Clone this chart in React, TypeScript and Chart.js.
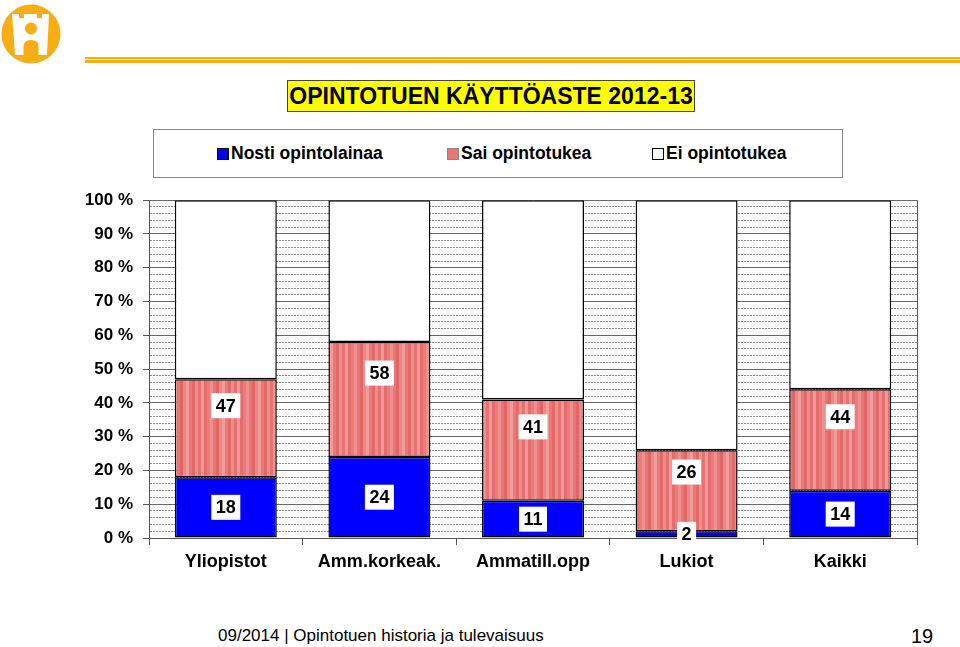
import React, { useEffect, useRef } from "react";
import { Chart, registerables } from "chart.js";

Chart.register(...registerables);

const categories = ["Yliopistot", "Amm.korkeak.", "Ammatill.opp", "Lukiot", "Kaikki"];
const loanValues = [18, 24, 11, 2, 14];
const supportTotals = [47, 58, 41, 26, 44];
const seriesNames = ["Nosti opintolainaa", "Sai opintotukea", "Ei opintotukea"];
const yTickValues = [0, 10, 20, 30, 40, 50, 60, 70, 80, 90, 100];

const FONT = "'Liberation Sans', Arial, Helvetica, sans-serif";

function makeRedPattern(): CanvasPattern | string {
  const c = document.createElement("canvas");
  const stripes = ["#E56C6C", "#EA7C7C", "#EF9090", "#E87676", "#E36666", "#EC8787", "#F29C9C", "#E97A7A", "#E46A6A", "#EE8D8D", "#E77272", "#F09898"];
  const sw = 3;
  c.width = stripes.length * sw;
  c.height = 4;
  const g = c.getContext("2d");
  if (!g) return "#E87878";
  stripes.forEach((col, i) => {
    g.fillStyle = col;
    g.fillRect(i * sw, 0, sw, 4);
  });
  const p = g.createPattern(c, "repeat");
  return p || "#E87878";
}

const labelPlugin = {
  id: "segmentLabels",
  afterDatasetsDraw(chart: any) {
    const ctx = chart.ctx;
    ctx.save();
    ctx.font = `bold 18px ${FONT}`;
    ctx.textAlign = "center";
    ctx.textBaseline = "middle";
    const drawBox = (text: string, x: number, y: number) => {
      const w = ctx.measureText(text).width + 9;
      const h = 25;
      ctx.fillStyle = "#FFFFFF";
      ctx.fillRect(x - w / 2, y - h / 2, w, h);
      ctx.fillStyle = "#000000";
      ctx.fillText(text, x, y + 1);
    };
    const m0 = chart.getDatasetMeta(0);
    const m1 = chart.getDatasetMeta(1);
    m1.data.forEach((el: any, i: number) => {
      const y = el.base + (el.y - el.base) * 0.73;
      drawBox(String(supportTotals[i]), el.x, y);
    });
    m0.data.forEach((el: any, i: number) => {
      const y = (el.base + el.y) / 2;
      drawBox(String(loanValues[i]), el.x, y);
    });
    ctx.restore();
  },
};

function ChartCanvas() {
  const ref = useRef<HTMLCanvasElement | null>(null);
  useEffect(() => {
    if (!ref.current) return;
    const redFill = makeRedPattern();
    const chart = new Chart(ref.current, {
      type: "bar",
      data: {
        labels: categories,
        datasets: [
          {
            label: seriesNames[0],
            data: loanValues,
            backgroundColor: "#0000FF",
          },
          {
            label: seriesNames[1],
            data: supportTotals.map((t, i) => t - loanValues[i]),
            backgroundColor: redFill as any,
          },
          {
            label: seriesNames[2],
            data: supportTotals.map((t) => 100 - t),
            backgroundColor: "#FFFFFF",
          },
        ].map((d) => ({
          ...d,
          borderColor: "#000000",
          borderWidth: 1.5,
          borderSkipped: false,
          categoryPercentage: 1,
          barPercentage: 0.664,
        })) as any,
      },
      options: {
        animation: false,
        responsive: false,
        maintainAspectRatio: false,
        layout: { padding: { top: 10, right: 13, left: 0, bottom: 0 } },
        plugins: {
          legend: { display: false },
          tooltip: { enabled: false },
          title: { display: false },
        },
        scales: {
          x: {
            stacked: true,
            afterFit: (axis: any) => {
              axis.height = 52;
            },
            grid: {
              offset: true,
              drawOnChartArea: true,
              tickLength: 7,
              lineWidth: 1,
              color: (c: any) =>
                c.type !== "tick" || c.index === 0 ? "#555555" : "rgba(0,0,0,0)",
              tickColor: "#555555",
            },
            border: { display: true, color: "#555555", width: 1 },
            ticks: {
              color: "#000000",
              padding: 6,
              font: { family: FONT, size: 18, weight: "bold" },
            },
          },
          y: {
            stacked: true,
            min: 0,
            max: 100,
            afterFit: (axis: any) => {
              axis.width = 89;
            },
            afterBuildTicks: (axis: any) => {
              const t: any[] = [];
              for (let v = 0; v <= 100; v += 2) t.push({ value: v });
              axis.ticks = t;
            },
            grid: {
              drawOnChartArea: true,
              tickLength: 6,
              lineWidth: 1,
              color: (c: any) =>
                c.tick && yTickValues.includes(c.tick.value) ? "#666666" : "#8A8A8A",
              tickColor: (c: any) =>
                c.tick && yTickValues.includes(c.tick.value) ? "#555555" : "rgba(0,0,0,0)",
            },
            border: {
              display: true,
              color: "#555555",
              width: 1,
              dash: (c: any) =>
                c.tick && !yTickValues.includes(c.tick.value) ? [2, 1] : [],
            } as any,
            ticks: {
              autoSkip: false,
              color: "#000000",
              padding: 10,
              font: { family: FONT, size: 17, weight: "bold" },
              callback: (v: any) => (yTickValues.includes(Number(v)) ? `${v} %` : ""),
            },
          },
        },
      },
      plugins: [labelPlugin],
    });
    return () => chart.destroy();
  }, []);
  return <canvas ref={ref} width={870} height={410} style={{ display: "block" }} />;
}

function Logo() {
  return (
    <svg width="64" height="68" viewBox="0 0 64 68" style={{ position: "absolute", left: 0, top: 2 }}>
      <circle cx="31" cy="32" r="29.5" fill="#F7AE14" />
      <path
        d="M12 12 L19 12 L19 16 L24 16 L24 12 L37 12 L37 16 L42 16 L42 12 L49 12 L47 53 L38.5 53 L38.5 45 Q38.5 38 31 38 Q23.5 38 23.5 45 L23.5 53 L15 53 Z"
        fill="#FFFFFF"
      />
      <circle cx="31" cy="26.5" r="6" fill="#F7AE14" />
    </svg>
  );
}

export default function App() {
  useEffect(() => {
    document.body.style.margin = "0";
  }, []);
  const legendItem = (left: number, color: string, border: string, text: string) => (
    <div
      style={{
        position: "absolute",
        left,
        top: 0,
        height: 49,
        display: "flex",
        alignItems: "center",
      }}
    >
      <span
        style={{
          display: "inline-block",
          width: 10,
          height: 10,
          background: color,
          border: `1px solid ${border}`,
          marginRight: 2,
        }}
      />
      <span style={{ fontFamily: FONT, fontWeight: "bold", fontSize: 17.5, color: "#000", whiteSpace: "nowrap" }}>
        {text}
      </span>
    </div>
  );
  return (
    <div
      style={{
        position: "fixed",
        left: 0,
        top: 0,
        width: 960,
        height: 647,
        background: "#FFFFFF",
        overflow: "hidden",
        fontFamily: FONT,
      }}
    >
      <Logo />
      <div style={{ position: "absolute", left: 85, top: 57, width: 875, height: 2, background: "#F7AE14" }} />
      <div style={{ position: "absolute", left: 85, top: 60, width: 875, height: 3, background: "#F7AE14" }} />
      <div
        style={{
          position: "absolute",
          left: 287,
          top: 80,
          width: 406,
          height: 30,
          background: "#FFFF00",
          border: "1px solid #444",
          display: "flex",
          alignItems: "center",
          justifyContent: "center",
          fontWeight: "bold",
          fontSize: 23,
          color: "#000",
          whiteSpace: "nowrap",
        }}
      >
        OPINTOTUEN KÄYTTÖASTE 2012-13
      </div>
      <div
        style={{
          position: "absolute",
          left: 153,
          top: 129,
          width: 688,
          height: 47,
          border: "1px solid #888",
        }}
      >
        <div style={{ position: "relative", width: "100%", height: "100%", top: -1 }}>
          {legendItem(63, "#0000FF", "#000", seriesNames[0])}
          {legendItem(293, "#E87878", "#888", seriesNames[1])}
          {legendItem(498, "#FFFFFF", "#000", seriesNames[2])}
        </div>
      </div>
      <div style={{ position: "absolute", left: 60, top: 180, width: 870, height: 410 }}>
        <ChartCanvas />
      </div>
      <div
        style={{
          position: "absolute",
          left: 218,
          top: 626,
          fontFamily: FONT,
          fontSize: 17,
          color: "#000",
          whiteSpace: "nowrap",
        }}
      >
        09/2014 | Opintotuen historia ja tulevaisuus
      </div>
      <div
        style={{
          position: "absolute",
          left: 911,
          top: 625,
          fontFamily: FONT,
          fontSize: 20,
          color: "#000",
        }}
      >
        19
      </div>
    </div>
  );
}
